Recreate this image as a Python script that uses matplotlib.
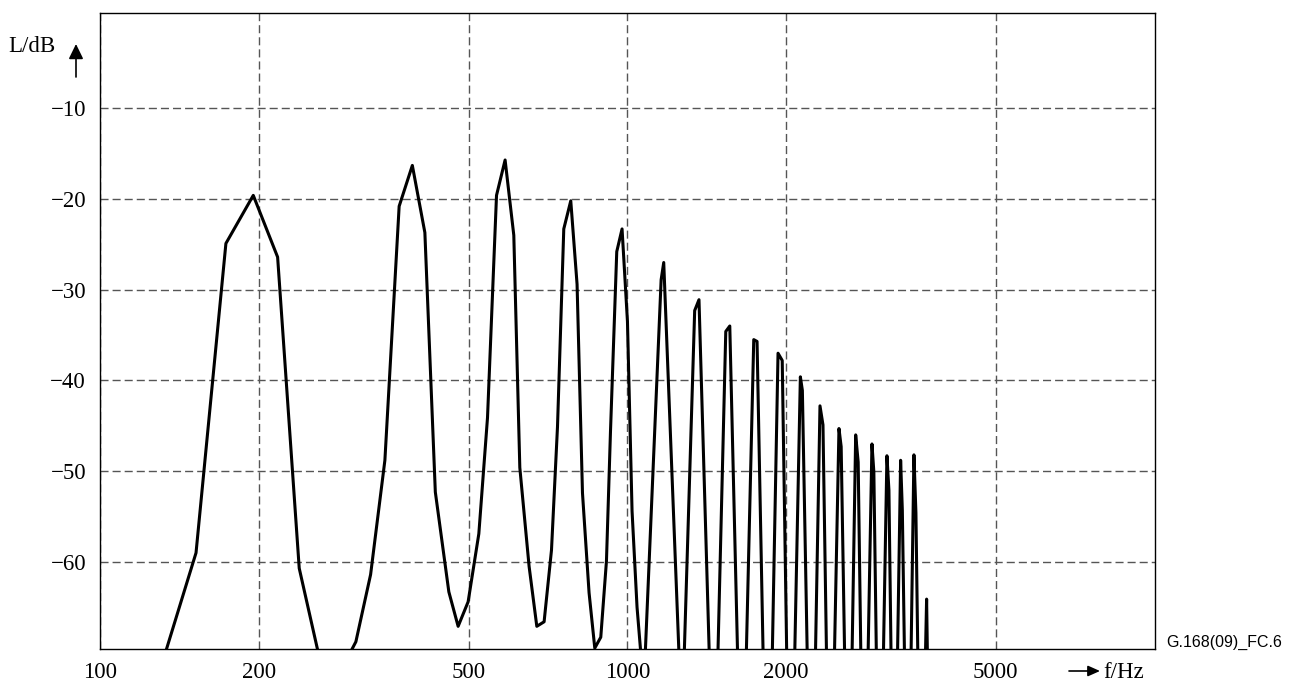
import matplotlib.pyplot as plt

# level spectrum (f in Hz, L in dB)
# points below the bottom of the plot are only there so the lines run off the edge
freq_hz = [130.5, 152.1, 173.3, 195.3, 217.2, 238.7, 260.3, 283.9,
           305.7, 326.0, 347.0, 369.3, 391.2, 413.2, 432.5, 458.8,
           477.8, 499.1, 523.0, 543.2, 565.0, 586.6, 609.3, 625.5,
           651.4, 673.7, 695.5, 718.3, 737.4, 757.9, 781.4, 803.2,
           822.4, 846.4, 867.8, 890.8, 913.2, 929.3, 955.2, 977.6,
           1000.9, 1021.2, 1043.7, 1074.7, 1159.5, 1172.7, 1269.8,
           1342.4, 1367.9, 1460.4, 1537.7, 1564.8, 1650.3, 1737.5,
           1762.7, 1847.0, 1931.9, 1967.6, 2037.0, 2129.8, 2148.5,
           2234.7, 2320.3, 2350.8, 2423.7, 2520.9, 2545.2, 2626.5,
           2711.7, 2741.4, 2811.5, 2911.5, 2935.7, 3008.3, 3108.3,
           3135.5, 3204.7, 3299.8, 3324.5, 3405.2, 3497.2, 3527.8,
           3604.1, 3696.3, 3761.4]
level_db = [-71.6, -59.0, -24.9, -19.6, -26.4, -60.7, -70.4, -72.4,
            -68.8, -61.4, -48.8, -20.8, -16.3, -23.7, -52.3, -63.3,
            -67.1, -64.4, -56.9, -44.1, -19.6, -15.7, -24.0, -49.6,
            -60.5, -67.1, -66.6, -58.7, -45.1, -23.3, -20.2, -29.4,
            -52.4, -63.4, -69.5, -68.3, -59.9, -45.7, -25.8, -23.3,
            -33.5, -54.4, -65.0, -74.0, -28.9, -27.0, -78.5,
            -32.3, -31.1, -88.0, -34.6, -34.0, -90.4, -35.5,
            -35.7, -96.5, -37.0, -37.8, -95.0, -39.6, -41.1,
            -95.0, -42.8, -44.9, -95.0, -45.3, -47.3, -95.0,
            -46.0, -49.0, -95.0, -47.0, -50.1, -95.0, -48.3,
            -52.1, -95.0, -48.8, -54.3, -95.0, -48.2, -54.6,
            -95.0, -64.1, -95.0]

x_ticks = [100, 200, 500, 1000, 2000, 5000]
y_ticks = [-10, -20, -30, -40, -50, -60]

plt.rcParams['font.family'] = ['Liberation Serif', 'DejaVu Serif']

W, H = 1291, 684
fig = plt.figure(figsize=(W / 100, H / 100), dpi=100)
ax = fig.add_axes([100 / W, 1 - 649 / H, 1054.5 / W, 636 / H])

ax.plot(freq_hz, level_db, color='black', lw=2.2)

ax.set_xscale('log')
ax.set_xlim(100, 10000)
ax.set_ylim(-69.6, 0.5)
ax.set_xticks(x_ticks, [str(t) for t in x_ticks])
ax.set_yticks(y_ticks)
ax.minorticks_off()
ax.tick_params(length=0, labelsize=16.5)
ax.tick_params(axis='y', pad=10)
ax.tick_params(axis='x', pad=9)
ax.grid(True, color='#555555', lw=1.0, ls=(0, (5.8, 2.9)))
for s in ax.spines.values():
    s.set_linewidth(1.0)
    s.set_color('black')

# axis captions with their arrows
fig.text(8 / W, 1 - 51.7 / H, 'L/dB', ha='left', va='baseline', fontsize=16.5)
ax.annotate('', xy=(76, H - 44), xytext=(76, H - 77), xycoords='figure pixels',
            arrowprops=dict(arrowstyle='-|>,head_length=0.45,head_width=0.22',
                            color='black', lw=1.2, shrinkA=0, shrinkB=0,
                            mutation_scale=20))
fig.text(1103 / W, 1 - 678 / H, 'f/Hz', ha='left', va='baseline', fontsize=16.5)
ax.annotate('', xy=(1100, H - 671), xytext=(1069, H - 671), xycoords='figure pixels',
            arrowprops=dict(arrowstyle='-|>,head_length=0.45,head_width=0.2',
                            color='black', lw=1.2, shrinkA=0, shrinkB=0,
                            mutation_scale=16))
fig.text(1166.7 / W, 1 - 647 / H, 'G.168(09)_FC.6', ha='left', va='baseline',
         fontsize=11.5, family=['Liberation Sans', 'DejaVu Sans'])

fig.savefig('out.png', dpi=100)
